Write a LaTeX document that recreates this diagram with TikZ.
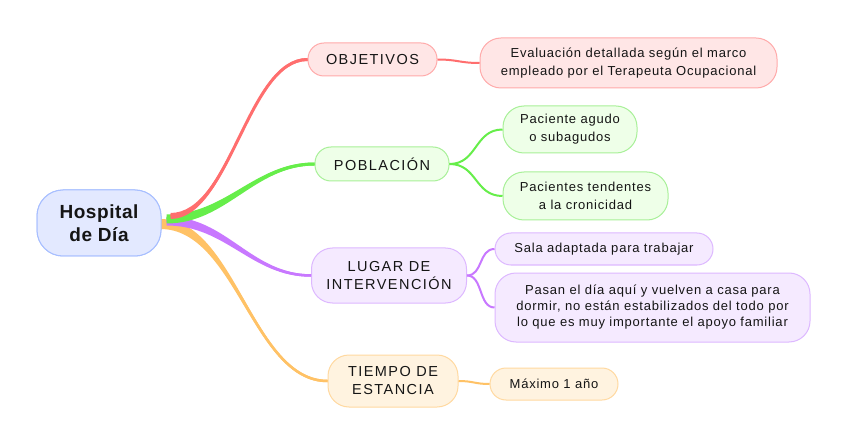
\documentclass[tikz,border=0pt]{standalone}
\usepackage{fontspec}
\usetikzlibrary{calc}
\setmainfont{Liberation Sans}
\newfontfamily\leaffont{Liberation Sans}[LetterSpace=6]
\newfontfamily\branchfont{Liberation Sans}[LetterSpace=10]
\newfontfamily\rootfont{Liberation Sans}[LetterSpace=3]
\definecolor{txt}{HTML}{151515}
\definecolor{rootfill}{HTML}{E3E9FF}\definecolor{rootline}{HTML}{A8BFFF}
\definecolor{rline}{HTML}{FF6E6E}\definecolor{rfill}{HTML}{FFE6E6}\definecolor{rdraw}{HTML}{FFAAAA}
\definecolor{gline}{HTML}{66EE4A}\definecolor{gfill}{HTML}{EEFFE8}\definecolor{gdraw}{HTML}{A8F098}
\definecolor{pline}{HTML}{C878FF}\definecolor{pfill}{HTML}{F5EAFF}\definecolor{pdraw}{HTML}{DDB8FF}
\definecolor{oline}{HTML}{FFC266}\definecolor{ofill}{HTML}{FFF3E0}\definecolor{odraw}{HTML}{FFD9A0}
% #1 colour, #2 start, #3 end, #4 start width, #5 end width, #6 c1 dist, #7 c2 dist
\newcommand\taperbranch[7]{%
  \path let \p1=(#2), \p2=(#3.west) in
    [fill=#1] (\x1,\y1-#4/2) .. controls (\x1+#6,\y1-#4/2) and (\x2-#7,\y2-#5/2) .. (\x2,\y2-#5/2)
    -- (\x2,\y2+#5/2) .. controls (\x2-#7,\y2+#5/2) and (\x1+#6,\y1+#4/2) .. (\x1,\y1+#4/2) -- cycle;
  \draw[#1, line width=#5] (#2) .. controls +(#6,0) and +(-#7,0) .. (#3.west);
}
\begin{document}
\begin{tikzpicture}[x=1pt,y=-1pt,
  box/.style={draw, line width=1pt, rounded corners=16pt, inner sep=0pt, align=center, text=txt},
  bigr/.style={rounded corners=21pt},
  rootbox/.style={box, fill=rootfill, draw=rootline, rounded corners=26pt,
     font=\rootfont\bfseries\fontsize{19}{23}\selectfont},
  branchbox/.style={box, font=\branchfont\fontsize{14.5}{18}\selectfont},
  leafbox/.style={box, font=\leaffont\fontsize{13}{18}\selectfont},
  link/.style={line width=2pt}]
\useasboundingbox (0,0) rectangle (848,446);
\fill[white] (0,0) rectangle (848,446);

\node[rootbox, minimum width=124pt, minimum height=66pt] (root) at (99,223) {Hospital\\de Día};

\node[branchbox, fill=rfill, draw=rdraw, minimum width=129pt, minimum height=33pt] (obj) at (372.5,59.5) {OBJETIVOS};
\node[branchbox, fill=gfill, draw=gdraw, minimum width=134pt, minimum height=34pt] (pob) at (382,164) {POBLACIÓN};
\node[branchbox, bigr, fill=pfill, draw=pdraw, minimum width=155pt, minimum height=55pt] (lug) at (389,275.5) {LUGAR DE\\INTERVENCIÓN};
\node[branchbox, bigr, fill=ofill, draw=odraw, minimum width=130pt, minimum height=52pt] (tie) at (393,381) {TIEMPO DE\\ESTANCIA};

\node[leafbox, bigr, fill=rfill, draw=rdraw, minimum width=297pt, minimum height=50pt] (eval) at (628.5,63) {Evaluación detallada según el marco\\empleado por el Terapeuta Ocupacional};
\node[leafbox, bigr, fill=gfill, draw=gdraw, minimum width=134pt, minimum height=47pt] (agu) at (570,129.5) {Paciente agudo\\o subagudos};
\node[leafbox, bigr, fill=gfill, draw=gdraw, minimum width=165pt, minimum height=48pt] (ten) at (585.5,196) {Pacientes tendentes\\a la cronicidad};
\node[leafbox, fill=pfill, draw=pdraw, minimum width=218pt, minimum height=32pt] (sal) at (604,249) {Sala adaptada para trabajar};
\node[leafbox, bigr, fill=pfill, draw=pdraw, minimum width=315pt, minimum height=69pt, font=\leaffont\fontsize{13}{16}\selectfont] (pas) at (652.5,307.5) {Pasan el día aquí y vuelven a casa para\\dormir, no están estabilizados del todo por\\lo que es muy importante el apoyo familiar};
\node[leafbox, fill=ofill, draw=odraw, minimum width=128pt, minimum height=32pt] (max) at (554,384) {Máximo 1 año};

\coordinate (ostart) at ($(root.east)+(-1,1)$);
\coordinate (pstart) at ($(root.east)+(5,-2)$);
\coordinate (gstart) at ($(root.east)+(5,-4)$);
\coordinate (rstart) at ($(root.east)+(9,-7)$);

\taperbranch{oline}{ostart}{tie}{10}{2.5}{75}{75}
\taperbranch{pline}{pstart}{lug}{9}{2.5}{60}{60}
\taperbranch{gline}{gstart}{pob}{9}{3}{60}{60}
\taperbranch{rline}{rstart}{obj}{6}{3}{60}{60}

\draw[link, rline] (obj.east) .. controls +(20,0) and +(-20,0) .. (eval.west);
\draw[link, gline] (pob.east) .. controls +(28,0) and +(-28,0) .. (agu.west);
\draw[link, gline] (pob.east) .. controls +(28,0) and +(-28,0) .. (ten.west);
\draw[link, pline] (lug.east) .. controls +(16,0) and +(-16,0) .. (sal.west);
\draw[link, pline] (lug.east) .. controls +(16,0) and +(-16,0) .. (pas.west);
\draw[link, oline] (tie.east) .. controls +(15,0) and +(-15,0) .. (max.west);

% redraw root on top of branch starts
\node[rootbox, minimum width=124pt, minimum height=66pt] at (root.center) {Hospital\\de Día};
\end{tikzpicture}
\end{document}
